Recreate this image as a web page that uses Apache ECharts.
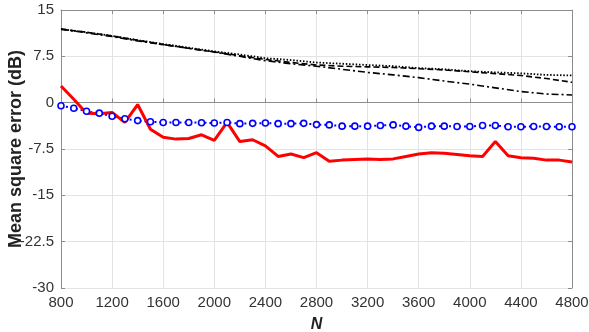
<!DOCTYPE html>
<html lang="en">
<head>
  <meta charset="UTF-8">
  <title>mse</title>
  <style>
    * { margin: 0; padding: 0; }
    #main { width: 589px; height: 332px; background: #fff; }
  </style>
</head>
<body>
  <div id="main"></div>
  <script src="https://cdn.jsdelivr.net/npm/echarts@6/dist/echarts.min.js"></script>
  <script>
    // N values (every 100) for the red and blue curves
    var nFine = [800, 900, 1000, 1100, 1200, 1300, 1400, 1500, 1600, 1700, 1800, 1900, 2000,
      2100, 2200, 2300, 2400, 2500, 2600, 2700, 2800, 2900, 3000, 3100, 3200, 3300, 3400,
      3500, 3600, 3700, 3800, 3900, 4000, 4100, 4200, 4300, 4400, 4500, 4600, 4700, 4800];
    var redMse = [2.7, 0.55, -1.7, -1.8, -1.6, -3.2, -0.3, -4.3, -5.6, -5.9, -5.8, -5.2, -6.1,
      -3.2, -6.3, -6.0, -7.0, -8.7, -8.3, -8.9, -8.1, -9.5, -9.3, -9.2, -9.1, -9.2, -9.1,
      -8.7, -8.3, -8.1, -8.2, -8.4, -8.6, -8.7, -6.3, -8.6, -8.9, -9.0, -9.3, -9.3, -9.6];
    var blueMse = [-0.5, -0.9, -1.4, -1.7, -2.2, -2.6, -2.9, -3.1, -3.2, -3.2, -3.2, -3.25, -3.3,
      -3.2, -3.4, -3.35, -3.3, -3.4, -3.4, -3.35, -3.55, -3.6, -3.8, -3.8, -3.8, -3.7, -3.6,
      -3.8, -4.0, -3.8, -3.8, -3.85, -3.85, -3.7, -3.7, -3.9, -3.9, -3.85, -3.85, -3.9, -3.9];

    // N values (every 200) for the three black curves
    var nCoarse = [800, 1000, 1200, 1400, 1600, 1800, 2000, 2200, 2400, 2600, 2800,
      3000, 3200, 3400, 3600, 3800, 4000, 4200, 4400, 4600, 4800];
    var dottedMse = [11.9, 11.4, 10.8, 10.1, 9.5, 8.9, 8.3, 7.8, 7.2, 6.9, 6.5,
      6.3, 6.1, 5.9, 5.6, 5.4, 5.1, 4.9, 4.75, 4.5, 4.4];
    var dashedMse = [11.9, 11.4, 10.8, 10.1, 9.4, 8.8, 8.2, 7.6, 7.0, 6.5, 6.1,
      5.9, 5.8, 5.7, 5.5, 5.3, 5.0, 4.7, 4.4, 3.9, 3.3];
    var dashDotMse = [11.9, 11.3, 10.7, 10.0, 9.4, 8.8, 8.2, 7.5, 6.8, 6.3, 5.9,
      5.4, 4.9, 4.5, 4.05, 3.5, 3.0, 2.4, 1.8, 1.4, 1.25];

    function pairs(xs, ys) {
      return xs.map(function (x, i) { return [x, ys[i]]; });
    }

    var myChart = echarts.init(document.getElementById('main'));
    var textColor = '#333';
    var frameColor = '#8c8c8c';

    var option = {
      animation: false,
      textStyle: { fontFamily: 'Liberation Sans, Arial, sans-serif' },
      grid: { left: 61, right: 17, top: 10, bottom: 44, outerBoundsMode: 'none' },
      xAxis: [{
        type: 'value', min: 800, max: 4800, interval: 400,
        name: 'N', nameLocation: 'middle', nameGap: 29, nameMoveOverlap: false,
        nameTextStyle: { fontWeight: 'bold', fontStyle: 'italic', fontSize: 16, color: '#222' },
        axisLine: { lineStyle: { color: frameColor } },
        axisTick: { inside: true, length: 4, lineStyle: { color: frameColor } },
        axisLabel: { color: textColor, fontSize: 15, margin: 7, formatter: function (v) { return String(v); } },
        splitLine: { show: true, lineStyle: { color: '#e3e3e3' } }
      }, {
        type: 'value', position: 'top', min: 800, max: 4800, interval: 400,
        axisLine: { show: true, onZero: false, lineStyle: { color: frameColor } },
        axisTick: { inside: true, length: 4, lineStyle: { color: frameColor } },
        axisLabel: { show: false }, splitLine: { show: false }
      }],
      yAxis: [{
        type: 'value', min: -30, max: 15, interval: 7.5,
        name: 'Mean square error (dB)', nameLocation: 'middle', nameGap: 36, nameMoveOverlap: false,
        nameTextStyle: { fontWeight: 'bold', fontSize: 18, color: '#222' },
        axisLine: { show: true, lineStyle: { color: frameColor } },
        axisTick: { show: true, inside: true, length: 4, lineStyle: { color: frameColor } },
        axisLabel: { color: textColor, fontSize: 15, margin: 7 },
        splitLine: { show: true, lineStyle: { color: '#e3e3e3' } }
      }, {
        type: 'value', position: 'right', min: -30, max: 15, interval: 7.5,
        axisLine: { show: true, onZero: false, lineStyle: { color: frameColor } },
        axisTick: { show: true, inside: true, length: 4, lineStyle: { color: frameColor } },
        axisLabel: { show: false }, splitLine: { show: false }
      }],
      series: [{
        name: 'dotted', type: 'line', showSymbol: false,
        data: pairs(nCoarse, dottedMse),
        lineStyle: { color: '#000', width: 1.8, type: [1.5, 1.8] }
      }, {
        name: 'dashed', type: 'line', showSymbol: false,
        data: pairs(nCoarse, dashedMse),
        lineStyle: { color: '#000', width: 1.6, type: [6, 3] }
      }, {
        name: 'dashdot', type: 'line', showSymbol: false,
        data: pairs(nCoarse, dashDotMse),
        lineStyle: { color: '#000', width: 1.6, type: [7, 3, 2, 3] }
      }, {
        name: 'blue', type: 'line', symbol: 'circle', symbolSize: 6,
        data: pairs(nFine, blueMse),
        lineStyle: { color: '#0000ff', width: 2, type: [2, 3] },
        itemStyle: { color: '#fff', borderColor: '#0000ff', borderWidth: 1.6 }
      }, {
        name: 'red', type: 'line', showSymbol: false,
        data: pairs(nFine, redMse),
        lineStyle: { color: '#ff0000', width: 3 }
      }]
    };
    myChart.setOption(option);
  </script>
</body>
</html>
